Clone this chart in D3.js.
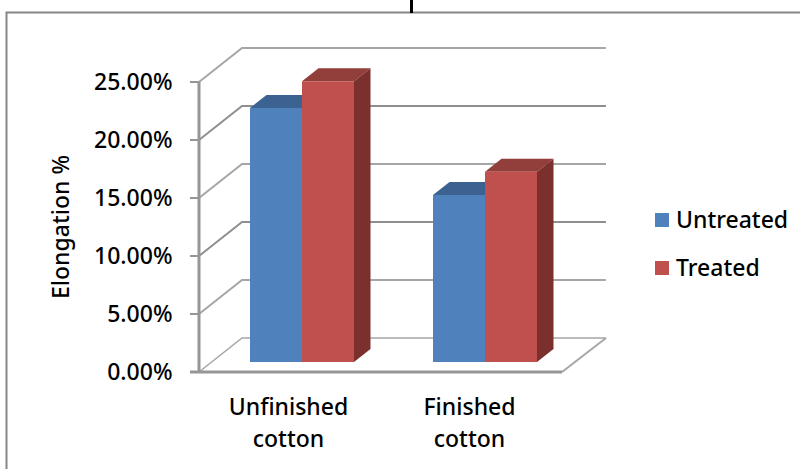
<!DOCTYPE html>
<html><head><meta charset="utf-8">
<script src="https://cdn.jsdelivr.net/npm/d3@7/dist/d3.min.js"></script>
<style>html,body{margin:0;padding:0;background:#fff}svg{display:block}text{font-family:"Noto Sans",sans-serif;font-weight:500;fill:#000}</style>
</head><body><svg id="c" width="800" height="469"></svg>
<script>
const categories=[["Unfinished","cotton"],["Finished","cotton"]];
const seriesNames=["Untreated","Treated"];
const untreated=[21.9,14.4];
const treated=[24.2,16.4];
const ticks=[0,5,10,15,20,25];
const colors={Untreated:["#4f81bd","#3c6291","#3a5f8c"],Treated:["#c0504d","#923e3b","#7c302e"]};
const svg=d3.select("#c");
const W=800,H=469;
svg.append("path").attr("d",`M6.5,${H}V12.5H${W}`).attr("fill","none").attr("stroke","#868686").attr("stroke-width",2);
svg.append("line").attr("x1",411.5).attr("x2",411.5).attr("y1",0).attr("y2",13).attr("stroke","#000").attr("stroke-width",3);
const y=d3.scaleLinear().domain([0,25]).range([372,82]);
const x0=d3.scaleBand().domain([0,1]).range([199,565]);
const dx=43,dy=-34;
const g=svg.append("g");
const grid="#a6a6a6";
ticks.forEach(t=>{
  g.append("path").attr("d",`M199,${y(t)}L${199+dx},${y(t)+dy}H606`).attr("fill","none")
   .attr("stroke",(t===10||t===20)?"#8f8f8f":grid).attr("stroke-width",t===0?1.5:2);
});
g.append("path").attr("d",`M562,${y(0)}L606,${y(0)+dy}`).attr("fill","none").attr("stroke",grid).attr("stroke-width",2);
const barW=52, ddx=16.5, ddy=-13, base=-10;
const series=[untreated,treated];
[0,1].forEach(c=>{[0,1].forEach(s=>{
  const v=series[s][c];
  const col=colors[seriesNames[s]];
  const L=Math.round(x0(c)+50.5)+s*barW, R=L+barW;
  const top=y(v)+base, bot=y(0)+base;
  g.append("path").attr("d",`M${L},${top}L${L+ddx},${top+ddy}H${R+ddx}L${R},${top}Z`).attr("fill",col[1]);
  g.append("path").attr("d",`M${R},${top}L${R+ddx},${top+ddy}V${bot+ddy}L${R},${bot}Z`).attr("fill",col[2]);
  g.append("rect").attr("x",L).attr("y",top).attr("width",barW).attr("height",bot-top).attr("fill",col[0]);
});});
g.append("line").attr("x1",199).attr("x2",199).attr("y1",y(25)).attr("y2",y(0)).attr("stroke","#969696").attr("stroke-width",3);
g.append("line").attr("x1",190).attr("x2",562).attr("y1",y(0)).attr("y2",y(0)).attr("stroke","#969696").attr("stroke-width",3);
ticks.forEach(t=>{
  g.append("line").attr("x1",190).attr("x2",199).attr("y1",y(t)).attr("y2",y(t)).attr("stroke","#969696").attr("stroke-width",2);
  svg.append("text").attr("x",172.5).attr("y",y(t)+8).attr("text-anchor","end").attr("font-size",23).text(d3.format(".2f")(t)+"%");
});
categories.forEach((c,i)=>{
  const cx=i===0?288.5:469.5;
  c.forEach((l,j)=>svg.append("text").attr("x",cx).attr("y",415+j*32).attr("text-anchor","middle").attr("font-size",23).text(l));
});
svg.append("text").attr("transform","translate(69,227) rotate(-90)").attr("text-anchor","middle").attr("font-size",23).text("Elongation %");
seriesNames.forEach((n,i)=>{
  const ly=220+i*48;
  svg.append("rect").attr("x",655).attr("y",ly-7).attr("width",14).attr("height",14).attr("fill",colors[n][0]);
  svg.append("text").attr("x",676).attr("y",ly+8).attr("font-size",23).text(n);
});
</script></body></html>
